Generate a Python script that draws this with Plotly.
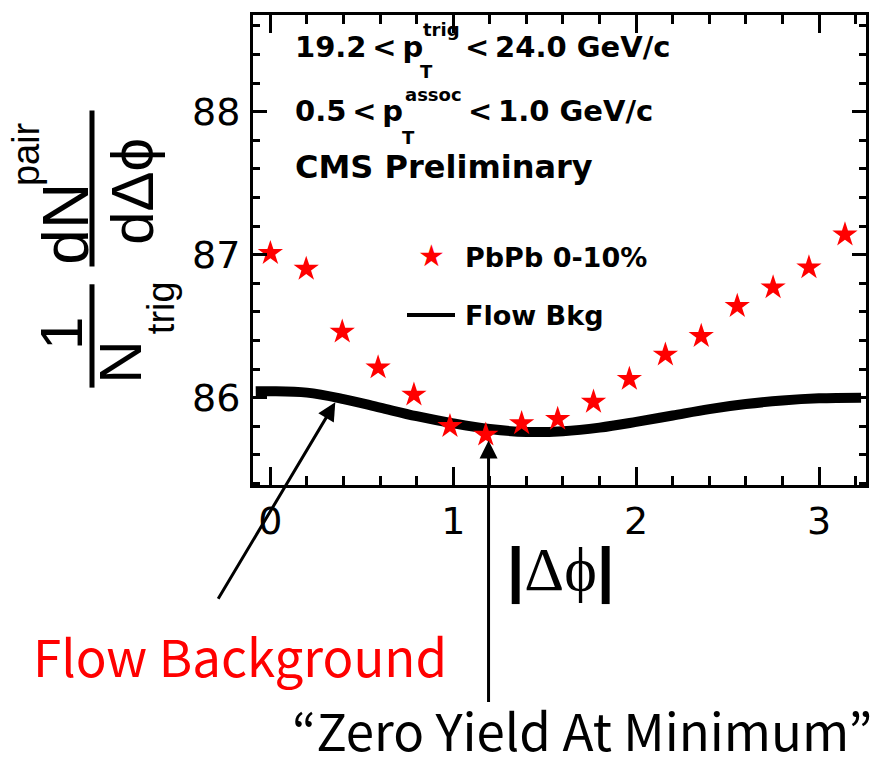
import plotly.graph_objects as go

# ---------------- data ----------------
dphi = [0.0, 0.196, 0.393, 0.589, 0.785, 0.982, 1.178, 1.374, 1.571,
        1.767, 1.963, 2.160, 2.356, 2.553, 2.749, 2.945, 3.142]
pbpb = [87.01, 86.90, 86.46, 86.21, 86.02, 85.80, 85.74, 85.82, 85.85,
        85.97, 86.13, 86.30, 86.43, 86.64, 86.77, 86.91, 87.14]

flow_x = [-0.08, 0.0, 0.2, 0.4, 0.6, 0.8, 1.0, 1.2, 1.4, 1.6, 1.8,
          2.0, 2.2, 2.4, 2.6, 2.8, 3.0, 3.23]
flow_y = [86.045, 86.045, 86.035, 85.99, 85.93, 85.87, 85.82, 85.78,
          85.76, 85.765, 85.79, 85.83, 85.875, 85.92, 85.955, 85.98,
          85.995, 86.0]

x_ticks = [0, 1, 2, 3]
y_ticks = [86, 87, 88]

legend_labels = ["PbPb 0-10%", "Flow Bkg"]

# ---------------- figure ----------------
W, H = 886, 771
L, R, T, B = 253, 866, 12, 485


def fx(px):
    return (px - L) / (R - L)


def fy(py):
    return (B - py) / (B - T)


fig = go.Figure()
fig.add_trace(go.Scatter(x=flow_x, y=flow_y, mode="lines",
                         line=dict(color="black", width=10, shape="spline"),
                         showlegend=False, hoverinfo="skip"))
fig.add_trace(go.Scatter(x=dphi, y=pbpb, mode="markers",
                         marker=dict(symbol="star", size=19, color="red",
                                     line=dict(width=0)),
                         showlegend=False))

axis_common = dict(showline=True, linecolor="black", linewidth=3,
                   mirror="ticks", ticks="inside", tickcolor="black",
                   tickwidth=2.5, showgrid=False, zeroline=False)

fig.update_xaxes(range=[-0.095, 3.257], tickvals=x_ticks,
                 ticktext=[str(v) for v in x_ticks], ticklen=18,
                 tickfont=dict(family="DejaVu Sans", size=38, color="black"),
                 minor=dict(ticks="inside", dtick=0.2, tick0=0, ticklen=9,
                            tickwidth=2.5, tickcolor="black"),
                 ticklabelstandoff=0,
                 **axis_common)
fig.update_yaxes(range=[85.389, 88.676], tickvals=y_ticks,
                 ticktext=[str(v) for v in y_ticks], ticklen=14,
                 tickfont=dict(family="DejaVu Sans", size=38, color="black"),
                 minor=dict(ticks="inside", dtick=0.2, tick0=86, ticklen=7,
                            tickwidth=2.5, tickcolor="black"),
                 ticklabelstandoff=2,
                 **axis_common)

ann = []


def text(s, px, py, size, family="DejaVu Sans", color="black",
         xa="left", ya="middle", angle=0):
    ann.append(dict(text=s, x=fx(px), y=fy(py), xref="paper", yref="paper",
                    xanchor=xa, yanchor=ya, showarrow=False, textangle=angle,
                    font=dict(family=family, size=size, color=color)))


BF = "DejaVu Sans"
TS = "\u2009"  # thin space
# top-left labels
text("<b>19.2" + TS + "<" + TS + "p</b>", 293, 44, 29, BF)
text("<b>T</b>", 418, 69, 18, BF)
text("<b>trig</b>", 421, 27, 18, BF)
text("<b><" + TS + "24.0 GeV/c</b>", 463, 44, 29, BF)

text("<b>0.5" + TS + "<" + TS + "p</b>", 293, 109, 29, BF)
text("<b>T</b>", 400, 135, 18, BF)
text("<b>assoc</b>", 403, 92, 18, BF)
text("<b><" + TS + "1.0 GeV/c</b>", 466, 109, 29, BF)

text("<b>CMS Preliminary</b>", 293, 165, 32, BF)

# legend
text("★", 431, 254, 30, "DejaVu Sans", color="red", xa="center")
text("<b>" + legend_labels[0] + "</b>", 463, 256, 27, BF)
text("<b>" + legend_labels[1] + "</b>", 463, 314, 27, BF)

# y-axis title pieces (rotated)
YF = "Liberation Sans"
text("dN", 66, 222, 64, YF, xa="center", angle=-90)
text("pair", 26, 152, 38, YF, xa="center", angle=-90)
text("dΔϕ", 133, 190, 60, YF, xa="center", angle=-90)
text("1", 62, 333, 60, YF, xa="center", angle=-90)
text("N", 121, 362, 60, YF, xa="center", angle=-90)
text("trig", 161, 307, 38, YF, xa="center", angle=-90)

# x-axis title
text("<b>|</b><span style='font-family:Liberation Serif'>Δϕ</span><b>|</b>",
     560, 570, 62, "Liberation Sans", xa="center")

# bottom labels
text("Flow Background", 240, 656, 51, "Noto Sans CJK KR", color="red",
     xa="center")
text("“Zero Yield At Minimum”", 582, 770, 51, "Noto Sans CJK KR",
     xa="center", ya="bottom")

# arrows
ann.append(dict(x=0.355, y=85.967, xref="x", yref="y", text="",
                showarrow=True, ax=-118, ay=198, arrowhead=2, arrowsize=1.2,
                arrowwidth=3, arrowcolor="black", standoff=0))
ann.append(dict(x=1.193, y=85.70, xref="x", yref="y", text="",
                showarrow=True, ax=0, ay=263, arrowhead=2, arrowsize=1.2,
                arrowwidth=3, arrowcolor="black", standoff=0))

shapes = [
    dict(type="line", xref="paper", yref="paper", x0=fx(92), x1=fx(92),
         y0=fy(108), y1=fy(265), line=dict(color="black", width=5)),
    dict(type="line", xref="paper", yref="paper", x0=fx(92), x1=fx(92),
         y0=fy(283), y1=fy(387), line=dict(color="black", width=5)),
    dict(type="line", xref="paper", yref="paper", x0=fx(407), x1=fx(455),
         y0=fy(314), y1=fy(314), line=dict(color="black", width=4)),
]

fig.update_layout(width=W, height=H, autosize=False,
                  margin=dict(l=L, r=W - R, t=T, b=H - B, pad=0),
                  paper_bgcolor="white", plot_bgcolor="white",
                  showlegend=False, annotations=ann, shapes=shapes)

fig.write_html("out.html")
